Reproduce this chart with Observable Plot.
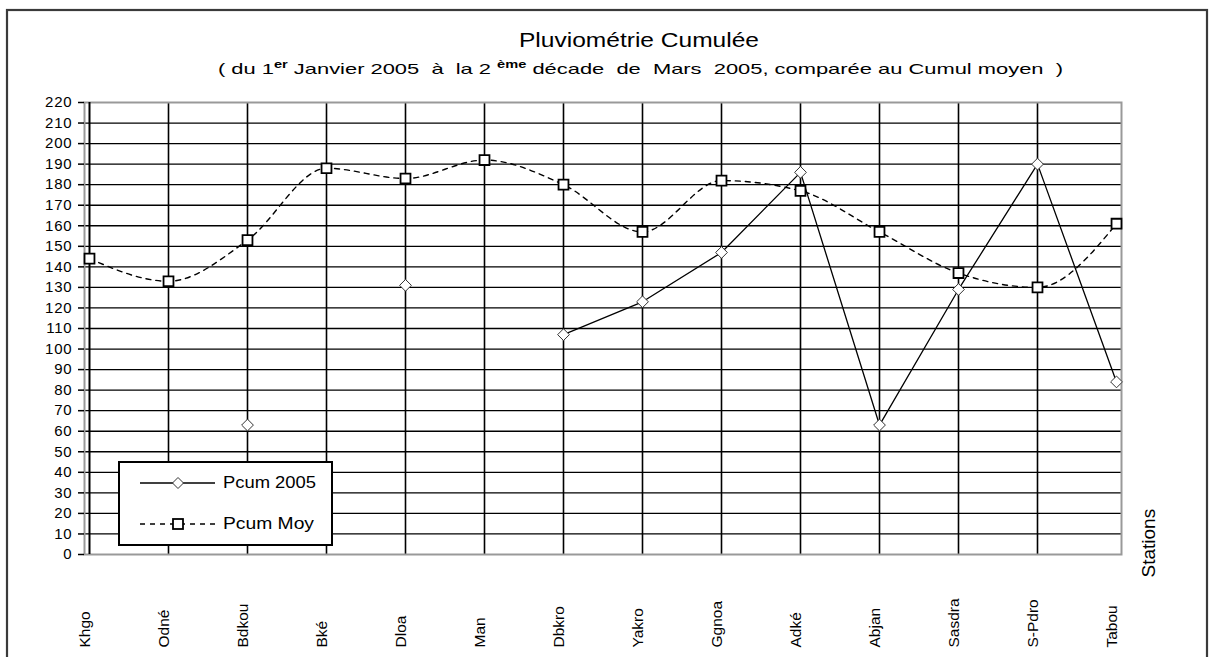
<!DOCTYPE html>
<html>
<head>
<meta charset="utf-8">
<script src="https://cdn.jsdelivr.net/npm/d3@7"></script>
<script src="https://cdn.jsdelivr.net/npm/@observablehq/plot@0.6"></script>
<style>
  html, body { margin: 0; padding: 0; background: #fff; }
  #wrap { position: relative; width: 1214px; height: 657px; overflow: hidden; }
  #wrap > svg { position: absolute; left: 0; top: 0; }
  #overlay { pointer-events: none; }
  text { font-family: "Liberation Sans", Arial, sans-serif; }
</style>
</head>
<body>
<div id="wrap"></div>
<script>
// ---- data ----
const stations = ["Khgo","Odné","Bdkou","Bké","Dloa","Man","Dbkro","Yakro","Ggnoa","Adké","Abjan","Sasdra","S-Pdro","Tabou"];
const pcum2005 = [null, null, 63, null, 131, null, 107, 123, 147, 186, 63, 129, 190, 84];
const pcumMoy  = [144, 133, 153, 188, 183, 192, 180, 157, 182, 177, 157, 137, 130, 161];
const yTicks = d3.range(0, 221, 10);
const titleText = "Pluviométrie Cumulée";
const seriesNames = ["Pcum 2005", "Pcum Moy"];
const axisTitle = "Stations";

const rows = stations.map((s, i) => ({station: s, p2005: pcum2005[i], moy: pcumMoy[i]}));

const chart = Plot.plot({
  width: 1214,
  height: 657,
  marginLeft: 84,
  marginRight: 93,
  marginTop: 102,
  marginBottom: 103,
  style: {fontFamily: "Liberation Sans, Arial, sans-serif", fontSize: "15px", color: "#000", background: "transparent"},
  x: {type: "point", domain: stations, padding: 0, axis: null},
  y: {domain: [0, 220], axis: null},
  marks: [
    Plot.ruleY(yTicks.filter(v => v > 0 && v < 220), {stroke: "#000", strokeWidth: 1.3}),
    Plot.ruleX(stations.slice(1, -1), {stroke: "#000", strokeWidth: 1.6}),
    Plot.frame({stroke: "#999", strokeWidth: 2}),
    Plot.ruleX([stations[0]], {stroke: "#000", strokeWidth: 2}),
    Plot.axisY({ticks: yTicks, tickSize: 6, tickPadding: 6, fontSize: 15, label: null, strokeWidth: 1.5}),
    Plot.line(rows, {x: "station", y: "moy", curve: "monotone-x", stroke: "#000", strokeWidth: 1.4, strokeDasharray: "5,5"}),
    Plot.line(rows, {x: "station", y: "p2005", stroke: "#000", strokeWidth: 1.3}),
    Plot.dot(rows, {x: "station", y: "moy", symbol: "square", fill: "#fff", stroke: "#000", strokeWidth: 1.8, r: 5.6}),
    Plot.dot(rows, {x: "station", y: "p2005", symbol: "diamond2", fill: "#fff", stroke: "#333", strokeWidth: 1, r: 5.3}),
    Plot.text(stations, {x: d => d, frameAnchor: "bottom", rotate: -90, textAnchor: "start", dy: 93, fontSize: 15.5}),
    Plot.text([axisTitle], {frameAnchor: "bottom-right", rotate: -90, textAnchor: "start", dx: 33, dy: 23, fontSize: 19})
  ]
});
document.getElementById("wrap").appendChild(chart);
d3.select(chart).selectAll('g[aria-label="y-axis tick label"] text').style("letter-spacing", "0.8px");

// ---- overlay: border, titles, legend ----
const ov = d3.select("#wrap").append("svg")
  .attr("id", "overlay").attr("width", 1214).attr("height", 657);

ov.append("rect").attr("x", 7).attr("y", 10).attr("width", 1200).attr("height", 670)
  .attr("fill", "none").attr("stroke", "#3a3a3a").attr("stroke-width", 2.2);

ov.append("text").attr("x", 519).attr("y", 47).attr("font-size", 20)
  .attr("textLength", 240).attr("lengthAdjust", "spacingAndGlyphs").text(titleText);

const sub = ov.append("text").attr("x", 218).attr("y", 74).attr("font-size", 15)
  .attr("textLength", 845).attr("lengthAdjust", "spacingAndGlyphs")
  .style("white-space", "pre");
sub.append("tspan").text("( du 1");
sub.append("tspan").attr("dy", -6).attr("font-size", 10).attr("font-weight", "bold").text("er");
sub.append("tspan").attr("dy", 6).text(" Janvier 2005  à  la 2 ");
sub.append("tspan").attr("dy", -6).attr("font-size", 10).attr("font-weight", "bold").text("ème");
sub.append("tspan").attr("dy", 6).text(" décade  de  Mars  2005, comparée au Cumul moyen  )");

const lg = ov.append("g");
lg.append("rect").attr("x", 119).attr("y", 462).attr("width", 213).attr("height", 83)
  .attr("fill", "#fff").attr("stroke", "#000").attr("stroke-width", 2);
// row 1
lg.append("line").attr("x1", 140).attr("x2", 215).attr("y1", 483).attr("y2", 483)
  .attr("stroke", "#000").attr("stroke-width", 1.3);
lg.append("path").attr("d", "M178,477.5 L183.5,483 L178,488.5 L172.5,483 Z")
  .attr("fill", "#fff").attr("stroke", "#333").attr("stroke-width", 1);
lg.append("text").attr("x", 223).attr("y", 488).attr("font-size", 16)
  .attr("textLength", 93).attr("lengthAdjust", "spacingAndGlyphs").text(seriesNames[0]);
// row 2
lg.append("line").attr("x1", 140).attr("x2", 215).attr("y1", 524).attr("y2", 524)
  .attr("stroke", "#000").attr("stroke-width", 1.4).attr("stroke-dasharray", "5,5");
lg.append("rect").attr("x", 173).attr("y", 519).attr("width", 10).attr("height", 10)
  .attr("fill", "#fff").attr("stroke", "#000").attr("stroke-width", 1.8);
lg.append("text").attr("x", 223).attr("y", 529).attr("font-size", 16)
  .attr("textLength", 91).attr("lengthAdjust", "spacingAndGlyphs").text(seriesNames[1]);
</script>
</body>
</html>
